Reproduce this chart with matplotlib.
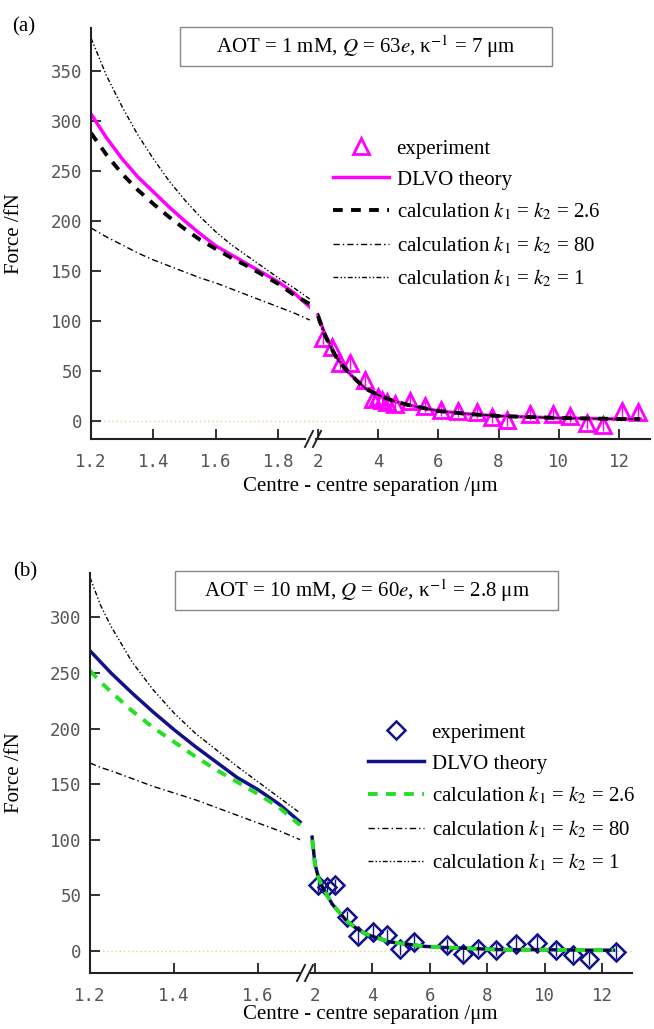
import matplotlib
matplotlib.use('Agg')
import matplotlib.pyplot as plt
from matplotlib.lines import Line2D
from matplotlib.patches import Rectangle

plt.rcParams['font.family'] = 'Liberation Serif'
plt.rcParams['mathtext.fontset'] = 'stix'
plt.rcParams['lines.scale_dashes'] = False

# ---- panel (a): AOT = 1 mM ----
a_xl = [1.2, 1.25, 1.3, 1.35, 1.4, 1.45, 1.5, 1.55, 1.6, 1.65, 1.7, 1.75, 1.8, 1.85, 1.9]
a_dlvo_l = [307, 283, 262, 244, 229, 214, 200, 187, 175, 166, 157, 148, 139, 128, 114]
a_k26_l = [288, 266, 247, 231, 217, 204, 192, 181, 172, 163, 155, 146, 137, 126, 117]
a_k80_l = [193, 184, 176, 168, 161, 155, 149, 143, 138, 132, 126, 120, 114, 108, 101]
a_k1_l = [383, 345, 314, 286, 262, 240, 221, 204, 189, 176, 165, 154, 143, 133, 122]

a_xr = [2.0, 2.2, 2.4, 2.6, 2.8, 3.0, 3.3, 3.6, 4.0, 4.5, 5.0, 5.5, 6.0, 7.0, 8.0, 9.0, 10.0, 11.0, 12.0, 12.7]
a_dlvo_r = [106, 89, 76, 65, 56, 49, 40, 32, 26, 20, 16, 13, 10, 7, 5, 4, 3, 2.5, 2, 2]
a_k26_r = [105, 88, 75, 64, 56, 49, 40, 32, 26, 20, 16, 13, 10, 7, 5, 4, 3, 2.5, 2, 2]
a_k80_r = [101, 86, 74, 64, 55, 48, 40, 32, 26, 20, 16, 13, 10, 7, 5, 4, 3, 2.5, 2, 2]
a_k1_r = [108, 90, 77, 66, 57, 49, 40, 32, 26, 20, 16, 13, 10, 7, 5, 4, 3, 2.5, 2, 2]

a_exp_x = [2.17, 2.46, 2.73, 3.06, 3.56, 3.83, 4.0, 4.13, 4.3, 4.56, 5.06, 5.55, 6.1, 6.65, 7.27, 7.77, 8.27, 9.03, 9.8, 10.37, 10.93, 11.47, 12.1, 12.63]
a_exp_y = [83, 74, 58, 58, 41, 22, 24, 21, 19, 17, 20, 15, 11, 10, 9, 4, 1, 7, 7, 5, -2, -4, 10, 9]

# ---- panel (b): AOT = 10 mM ----
b_xl = [1.2, 1.225, 1.25, 1.3, 1.35, 1.4, 1.45, 1.5, 1.55, 1.6, 1.65, 1.7]
b_dlvo_l = [270, 260, 250, 232, 215, 199, 184, 170, 156, 145, 132, 116]
b_k26_l = [252, 242, 233, 216, 201, 188, 175, 163, 152, 141, 129, 113]
b_k80_l = [169, 165, 162, 155, 148, 142, 136, 129, 122, 115, 108, 100]
b_k1_l = [336, 311, 292, 260, 235, 214, 196, 181, 166, 152, 138, 124]

b_xr = [1.9, 2.0, 2.1, 2.25, 2.4, 2.6, 2.8, 3.1, 3.4, 3.7, 4.0, 4.6, 5.2, 5.8, 6.5, 7.5, 8.5, 10.0, 11.5, 12.4]
b_dlvo_r = [102, 78, 68, 58, 51, 42, 36, 27, 21, 16, 13, 8, 6, 4, 3, 2, 1, 1, 0.5, 0.5]
b_k26_r = [100, 77, 67, 58, 51, 42, 36, 27, 21, 16, 13, 8, 6, 4, 3, 2, 1, 1, 0.5, 0.5]
b_k80_r = [96, 75, 66, 57, 50, 42, 36, 27, 21, 16, 13, 8, 6, 4, 3, 2, 1, 1, 0.5, 0.5]
b_k1_r = [104, 79, 69, 59, 51, 42, 36, 27, 21, 16, 13, 8, 6, 4, 3, 2, 1, 1, 0.5, 0.5]

b_exp_x = [2.1, 2.42, 2.7, 3.11, 3.5, 4.02, 4.5, 4.96, 5.45, 6.6, 7.14, 7.68, 8.3, 9.0, 9.73, 10.4, 10.99, 11.54, 12.49]
b_exp_y = [59, 57, 59, 30, 13, 17, 14, 2, 8, 5, -3, 2, 1, 6, 7, 1, -4, -7, -1]

W, H = 654, 1029
fig = plt.figure(figsize=(W / 100, H / 100), dpi=100)

def px(x0, y0, x1, y1):
    # figure-pixel box -> axes rect
    return [x0 / W, 1 - y1 / H, (x1 - x0) / W, (y1 - y0) / H]

tick_font = dict(family='DejaVu Sans Mono', size=12.5, color='#555555')
dash26 = (0, (7, 6))
dash80 = (0, (4.5, 2.2, 1, 2.2))
dash1 = (0, (3.5, 1.6, 1, 1.6, 1, 1.6))


def style(ax, left):
    for s in ['top', 'right']:
        ax.spines[s].set_visible(False)
    ax.spines['bottom'].set_linewidth(1.5)
    ax.spines['bottom'].set_color('#222222')
    ax.spines['left'].set_linewidth(1.5)
    ax.spines['left'].set_color('#222222')
    ax.tick_params(direction='in', length=7, width=1.3, color='#222222')
    ax.tick_params(axis='x', pad=10)
    ax.tick_params(axis='y', pad=6)
    for lab in ax.get_xticklabels() + ax.get_yticklabels():
        lab.set_fontfamily(tick_font['family'])
        lab.set_fontsize(tick_font['size'])
        lab.set_color(tick_font['color'])
    if not left:
        ax.spines['left'].set_visible(False)
        ax.tick_params(axis='y', left=False, labelleft=False)
    ax.patch.set_alpha(0)


def panel(rect_l, rect_r, xlim_l, xlim_r, ylim, yticks, xticks_l, xticks_r,
          bounds_l, bounds_r, xl, left_curves, xr, right_curves, ex, ey,
          theory_col, k26_col, marker, msize, mew):
    axl = fig.add_axes(rect_l)
    axr = fig.add_axes(rect_r)
    for ax in (axl, axr):
        ax.axhline(0, color='#f2cc8f', lw=1, ls=(0, (1, 2)), zorder=0)
        ax.set_ylim(*ylim)
    axl.set_xlim(*xlim_l)
    axr.set_xlim(*xlim_r)
    dl, k26l, k80l, k1l = left_curves
    dr, k26r, k80r, k1r = right_curves
    axl.plot(xl, k80l, color='black', lw=1, ls=dash80)
    axl.plot(xl, k1l, color='black', lw=1, ls=dash1)
    axl.plot(xl, dl, color=theory_col, lw=2.5)
    axl.plot(xl, k26l, color=k26_col, lw=2.8, ls=dash26)
    axr.errorbar(ex, ey, yerr=[6] * len(ex), fmt='none', ecolor=theory_col, elinewidth=1)
    h_exp, = axr.plot(ex, ey, ls='none', marker=marker, ms=msize, mfc='none',
                      mec=theory_col, mew=mew)
    h_d, = axr.plot(xr, dr, color=theory_col, lw=2.5)
    h_80, = axr.plot(xr, k80r, color='black', lw=1, ls=dash80)
    h_1, = axr.plot(xr, k1r, color='black', lw=1, ls=dash1)
    h_26, = axr.plot(xr, k26r, color=k26_col, lw=2.8, ls=dash26)
    axl.set_yticks(yticks)
    axl.set_xticks(xticks_l)
    axl.set_xticklabels([f'{v:.1f}' for v in xticks_l])
    axr.set_xticks(xticks_r)
    axr.set_xticklabels([str(v) for v in xticks_r])
    axl.spines['bottom'].set_bounds(*bounds_l)
    axr.spines['bottom'].set_bounds(*bounds_r)
    style(axl, True)
    style(axr, False)
    return axl, axr, [h_exp, h_d, h_26, h_80, h_1]


labels = ['experiment', 'DLVO theory',
          'calculation $k_1$ = $k_2$ = 2.6',
          'calculation $k_1$ = $k_2$ = 80',
          'calculation $k_1$ = $k_2$ = 1']

# panel (a)
axl, axr, hs = panel(px(91, 28, 310, 439), px(312, 28, 650, 439),
                     (1.2, 1.9008), (1.80, 13.03), (-18, 393),
                     [0, 50, 100, 150, 200, 250, 300, 350],
                     [1.2, 1.4, 1.6, 1.8], [2, 4, 6, 8, 10, 12],
                     (1.2, 1.885), (1.93, 13.03),
                     a_xl, (a_dlvo_l, a_k26_l, a_k80_l, a_k1_l),
                     a_xr, (a_dlvo_r, a_k26_r, a_k80_r, a_k1_r),
                     a_exp_x, a_exp_y, '#ff00ff', 'black', '^', 11, 2)
axl.set_ylabel('Force /fN', fontsize=15)
axl.yaxis.set_label_coords(-0.305, 0.5)
fig.text(370 / W, 1 - 487 / H, 'Centre - centre separation /μm', fontsize=15,
         ha='center', va='center')
fig.legend(hs, labels, loc='upper left', bbox_to_anchor=(333 / W, 1 - 139 / H),
           frameon=False, fontsize=15, handlelength=2.7, handletextpad=0.35,
           labelspacing=0.55, borderpad=0, borderaxespad=0)

# panel (b)
bxl, bxr, hs = panel(px(90, 573, 303, 973), px(305, 573, 632, 973),
                     (1.2, 1.707), (1.652, 13.045), (-20, 340),
                     [0, 50, 100, 150, 200, 250, 300],
                     [1.2, 1.4, 1.6], [2, 4, 6, 8, 10, 12],
                     (1.2, 1.698), (1.86, 13.045),
                     b_xl, (b_dlvo_l, b_k26_l, b_k80_l, b_k1_l),
                     b_xr, (b_dlvo_r, b_k26_r, b_k80_r, b_k1_r),
                     b_exp_x, b_exp_y, '#10108a', '#22e022', 'D', 9.5, 1.8)
bxl.set_ylabel('Force /fN', fontsize=15)
bxl.yaxis.set_label_coords(-0.31, 0.5)
fig.text(370 / W, 1 - 1015 / H, 'Centre - centre separation /μm', fontsize=15,
         ha='center', va='center')
fig.legend(hs, labels, loc='upper left', bbox_to_anchor=(368 / W, 1 - 723 / H),
           frameon=False, fontsize=15, handlelength=2.7, handletextpad=0.35,
           labelspacing=0.55, borderpad=0, borderaxespad=0)

# axis break marks
for (x0, y0, x1, y1) in [(305, 447, 313, 431), (313, 447, 321, 431),
                         (297, 981, 305, 965), (305, 981, 313, 965)]:
    fig.add_artist(Line2D([x0 / W, x1 / W], [1 - y0 / H, 1 - y1 / H],
                          color='#222222', lw=1.4, transform=fig.transFigure))

# parameter boxes and panel letters
for (x0, y0, x1, y1, txt) in [(180, 27, 552, 66, 'AOT = 1 mM, $Q$ = 63$e$, κ$^{-1}$ = 7 μm'),
                              (175, 571, 558, 610, 'AOT = 10 mM, $Q$ = 60$e$, κ$^{-1}$ = 2.8 μm')]:
    fig.add_artist(Rectangle((x0 / W, 1 - y1 / H), (x1 - x0) / W, (y1 - y0) / H,
                             transform=fig.transFigure, fill=False,
                             edgecolor='#888888', lw=1))
    fig.text((x0 + x1) / 2 / W, 1 - (y0 + y1) / 2 / H, txt, fontsize=15,
             ha='center', va='center')

fig.text(24 / W, 1 - 27 / H, '(a)', fontsize=15, ha='center', va='center')
fig.text(25 / W, 1 - 572 / H, '(b)', fontsize=15, ha='center', va='center')

fig.savefig('out.png', dpi=100)
